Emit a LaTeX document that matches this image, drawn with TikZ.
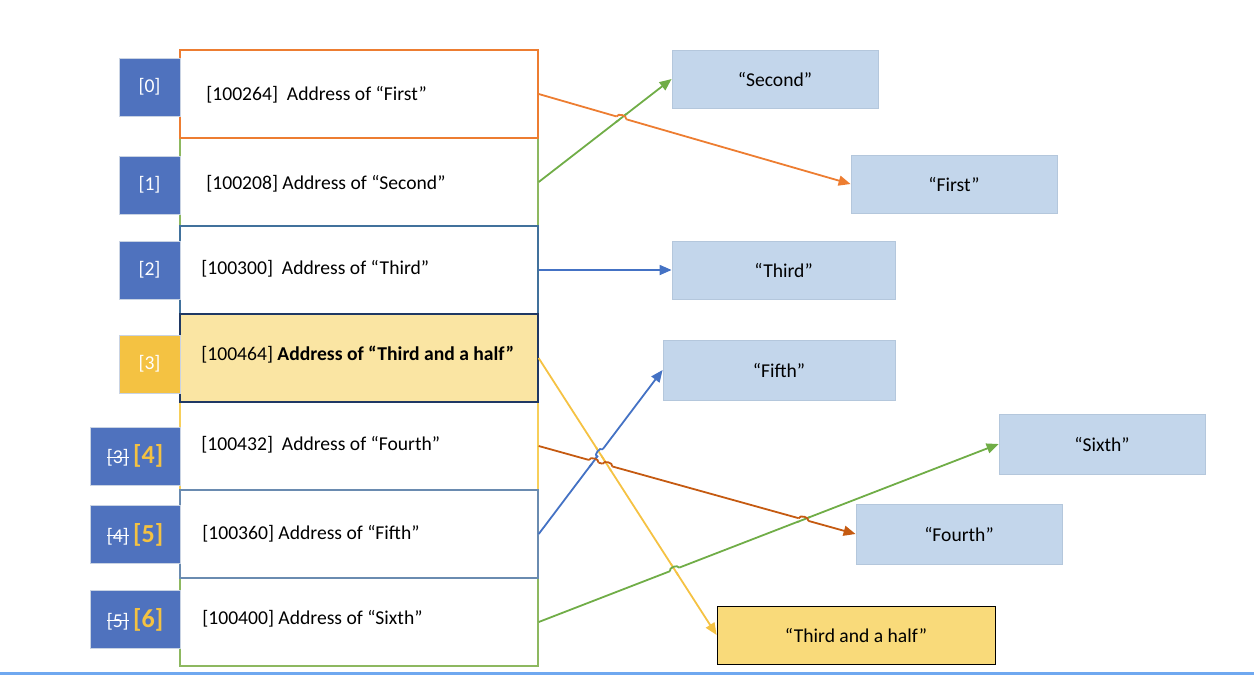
\documentclass[tikz,border=0pt]{standalone}
\usepackage{fontspec}
\setmainfont{Carlito}
\usetikzlibrary{arrows.meta,positioning,calc}
\definecolor{cellorange}{HTML}{ED7D31}
\definecolor{cellgreen}{HTML}{8DB860}
\definecolor{cellyellow}{HTML}{F7CF5A}
\definecolor{cellblue}{HTML}{41719C}
\definecolor{cellsteel}{HTML}{6A8BB0}
\definecolor{navy}{HTML}{1F3864}
\definecolor{halffill}{HTML}{FAE5A3}
\definecolor{halfbox}{HTML}{F9DA7A}
\definecolor{idxblue}{HTML}{4F72BE}
\definecolor{idxedge}{HTML}{C9D3E3}
\definecolor{gold}{HTML}{F4C242}
\definecolor{valblue}{HTML}{C3D6EB}
\definecolor{valedge}{HTML}{B4C7DC}
\definecolor{arrowgreen}{HTML}{70AD47}
\definecolor{arrowblue}{HTML}{4472C4}
\definecolor{arrowyellow}{HTML}{F5C243}
\definecolor{arrowbrown}{HTML}{C55A11}
\definecolor{rulerblue}{HTML}{6FA8F0}

\newsavebox\strkbox
\newcommand\strk[1]{\sbox\strkbox{#1}\rlap{\usebox\strkbox}\rule[0.3em]{\wd\strkbox}{0.45pt}}
\newcommand\newidx[1]{{\color{gold}\bfseries\fontsize{13}{14}\selectfont #1}}
% hop of line #1--#2 (colour #3) over line #4--#5 (colour #6)
\newcommand\linehop[6]{%
  \coordinate (hp) at (intersection of #1--#2 and #4--#5);
  \draw[white, line width=3pt] ($(hp)!2.5pt!(#1)$) -- ($(hp)!2.5pt!(#2)$);
  \draw[#6, line width=0.9pt] ($(hp)!3.5pt!(#4)$) -- ($(hp)!3.5pt!(#5)$);
  \draw[#3, line width=0.9pt] ($(hp)!2.5pt!(#1)$) to[bend left=90] ($(hp)!2.5pt!(#2)$);
}

\begin{document}
\begin{tikzpicture}[x=0.5pt, y=-0.5pt, font=\fontsize{9.8}{11}\selectfont,
  cell/.style={draw=#1, rectangle, minimum width=179pt, minimum height=44pt, inner sep=0pt, line width=0.7pt},
  celltext/.style={anchor=west, inner sep=0pt},
  index/.style={draw=idxedge, fill=idxblue, text=white, rectangle, minimum width=30.5pt, minimum height=29pt, inner sep=0pt},
  wideindex/.style={index, minimum width=45pt},
  value/.style={draw=valedge, fill=valblue, rectangle, minimum height=29pt, inner sep=0pt},
  ptr/.style={-{Triangle[length=6pt,width=5pt]}, line width=0.9pt}
]
\useasboundingbox (0,0) rectangle (1254,682);

% memory cells
\node[cell=cellgreen] (c1) at (359,182) {};
\node[cell=cellyellow] (c4) at (359,446) {};
\node[cell=cellgreen] (c6) at (359,622) {};
\node[cell=cellorange] (c0) at (359,94) {};
\node[cell=cellblue] (c2) at (359,270) {};
\node[cell=navy, fill=halffill, line width=0.6pt] (c3) at (359,358) {};
\node[cell=cellsteel] (c5) at (359,534) {};

\node[celltext] (t0) at (206,95) {[100264]\ \ Address of “First”};
\node[celltext] (t1) at (206,184) {[100208] Address of “Second”};
\node[celltext] (t2) at (201,269) {[100300]\ \ Address of “Third”};
\node[celltext] (t3) at (201,355) {[100464] \textbf{Address of “Third and a half”}};
\node[celltext] (t4) at (201,445) {[100432]\ \ Address of “Fourth”};
\node[celltext] (t5) at (202,534) {[100360] Address of “Fifth”};
\node[celltext] (t6) at (202,619) {[100400] Address of “Sixth”};

% indices
\node[index] (i0) at (149.5,87) {[0]};
\node[index] (i1) at (149.5,185) {[1]};
\node[index] (i2) at (149.5,270) {[2]};
\node[index, fill=gold] (i3) at (149.5,364) {[3]};
\node[wideindex] (i4) at (135,456) {\strk{[3]}\ \newidx{[4]}};
\node[wideindex] (i5) at (135,534.5) {\strk{[4]}\ \newidx{[5]}};
\node[wideindex] (i6) at (135,619.5) {\strk{[5]}\ \newidx{[6]}};

% strings
\node[value, minimum width=103pt] (vSecond) at (775,79) {“Second”};
\node[value, minimum width=103pt] (vFirst) at (954,184) {“First”};
\node[value, minimum width=111.5pt] (vThird) at (783.5,270) {“Third”};
\node[value, minimum width=116pt, minimum height=30pt] (vFifth) at (779,370) {“Fifth”};
\node[value, minimum width=103pt, minimum height=30pt] (vSixth) at (1102,444) {“Sixth”};
\node[value, minimum width=103pt, minimum height=30pt] (vFourth) at (959,534) {“Fourth”};
\node[value, draw=black, fill=halfbox, minimum width=139pt] (vHalf) at (856,635) {“Third and a half”};

% pointers
\draw[ptr, cellorange] (c0.east) -- (vFirst.west);
\draw[ptr, arrowgreen] (c1.east) -- (vSecond.west);
\draw[ptr, arrowblue] (c2.east) -- (vThird.west);
\draw[ptr, arrowyellow] (c3.east) -- (vHalf.west);
\draw[ptr, arrowbrown] (c4.east) -- (vFourth.west);
\draw[ptr, arrowblue] (c5.east) -- (vFifth.west);
\draw[ptr, arrowgreen] (c6.east) -- (vSixth.west);

% line hops
\linehop{c0.east}{vFirst.west}{cellorange}{c1.east}{vSecond.west}{arrowgreen}
\linehop{c5.east}{vFifth.west}{arrowblue}{c3.east}{vHalf.west}{arrowyellow}
\linehop{c6.east}{vSixth.west}{arrowgreen}{c3.east}{vHalf.west}{arrowyellow}
\linehop{c4.east}{vFourth.west}{arrowbrown}{c5.east}{vFifth.west}{arrowblue}
\linehop{c4.east}{vFourth.west}{arrowbrown}{c3.east}{vHalf.west}{arrowyellow}
\linehop{c4.east}{vFourth.west}{arrowbrown}{c6.east}{vSixth.west}{arrowgreen}

\draw[rulerblue, line width=1.5pt] (0,673) -- (1254,673);
\end{tikzpicture}
\end{document}
